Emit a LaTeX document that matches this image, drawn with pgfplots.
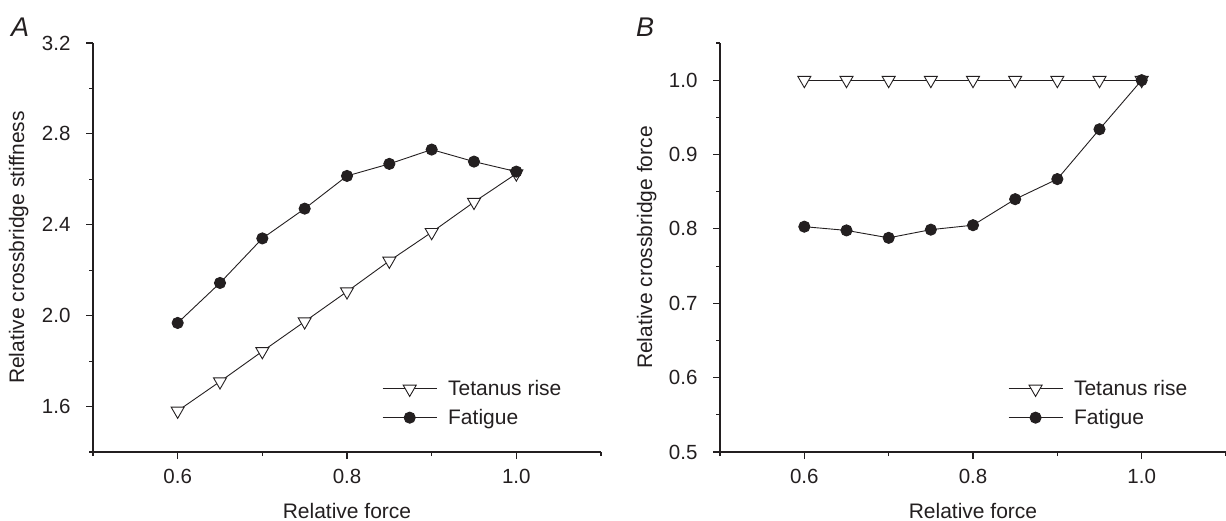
\documentclass[border=0pt]{standalone}
\usepackage{fontspec}
\setmainfont{Liberation Sans}
\usepackage{pgfplots}
\pgfplotsset{compat=1.18}
\definecolor{ink}{HTML}{231F20}
\pgfplotsset{
  common/.style={
    scale only axis,
    anchor=south west,
    height=409pt,
    axis x line*=bottom,
    axis y line*=left,
    axis line style={ink, line width=1.2pt},
    tick align=outside,
    major tick length=7pt,
    minor tick length=4pt,
    every tick/.style={ink, line width=1.1pt},
    xmin=0.5, xmax=1.1,
    xtick={0.6,0.8,1.0},
    minor xtick={0.5,0.7,0.9,1.1},
    tick label style={font=\fontsize{20.5}{24}\selectfont, text=ink},
    yticklabel style={xshift=-12pt},
    xticklabel style={yshift=-7pt},
    /pgf/number format/.cd, fixed, fixed zerofill, precision=1, assume math mode=true,
    /pgfplots/.cd,
    label style={font=\fontsize{21}{25}\selectfont, text=ink},
    xlabel={Relative force},
    xlabel style={at={(axis description cs:0.5,-0.1614)}, anchor=base},
    legend style={draw=none, fill=none, at={(0.569,0.18)}, anchor=north west,
      inner sep=0pt, row sep=8pt, font=\fontsize{21}{25}\selectfont, text=ink,
      /tikz/every odd column/.append style={column sep=9pt}},
    legend cell align=left,
    legend image code/.code={\draw[mark repeat=2,mark phase=2] plot coordinates {(0pt,0pt) (27pt,0pt) (54pt,0pt)};},
    clip=false,
  },
  tri/.style={color=ink, line width=0.9pt, mark=triangle*, mark size=7.5pt,
    mark options={rotate=180, fill=white, draw=ink, line width=0.9pt}},
  dot/.style={color=ink, line width=0.9pt, mark=*, mark size=5.6pt,
    mark options={fill=ink, draw=ink}},
}
\begin{document}
\begin{tikzpicture}[x=1pt,y=1pt]
\path[use as bounding box] (0,0) rectangle (1226,520);
\node[anchor=base west, inner sep=0pt, font=\fontsize{27}{30}\selectfont\itshape, text=ink] at (11,483) {A};
\node[anchor=base west, inner sep=0pt, font=\fontsize{27}{30}\selectfont\itshape, text=ink] at (636,483) {B};
\begin{axis}[common, at={(93pt,68pt)}, width=508pt,
  ymin=1.4, ymax=3.2,
  ytick={1.6,2.0,2.4,2.8,3.2},
  minor ytick={1.4,1.8,2.2,2.6,3.0},
  ylabel={Relative crossbridge stiffness},
  ylabel style={at={(axis description cs:-0.1465,0.5)}, anchor=center}]
\addplot[tri] coordinates {(0.60,1.581) (0.65,1.710) (0.70,1.843) (0.75,1.974) (0.80,2.106) (0.85,2.241) (0.90,2.367) (0.95,2.500) (1.00,2.625)};
\addlegendentry{Tetanus rise}
\addplot[dot] coordinates {(0.60,1.968) (0.65,2.144) (0.70,2.340) (0.75,2.471) (0.80,2.615) (0.85,2.668) (0.90,2.731) (0.95,2.678) (1.00,2.634)};
\addlegendentry{Fatigue}
\end{axis}
\begin{axis}[common, at={(720pt,68pt)}, width=506pt,
  ymin=0.5, ymax=1.05,
  ytick={0.5,0.6,0.7,0.8,0.9,1.0},
  minor ytick={0.55,0.65,0.75,0.85,0.95,1.05},
  ylabel={Relative crossbridge force},
  ylabel style={at={(axis description cs:-0.145,0.5)}, anchor=center}]
\addplot[tri] coordinates {(0.60,1.0) (0.65,1.0) (0.70,1.0) (0.75,1.0) (0.80,1.0) (0.85,1.0) (0.90,1.0) (0.95,1.0) (1.00,1.0)};
\addlegendentry{Tetanus rise}
\addplot[dot] coordinates {(0.60,0.803) (0.65,0.798) (0.70,0.788) (0.75,0.799) (0.80,0.805) (0.85,0.840) (0.90,0.867) (0.95,0.934) (1.00,1.0)};
\addlegendentry{Fatigue}
\end{axis}
\end{tikzpicture}
\end{document}
